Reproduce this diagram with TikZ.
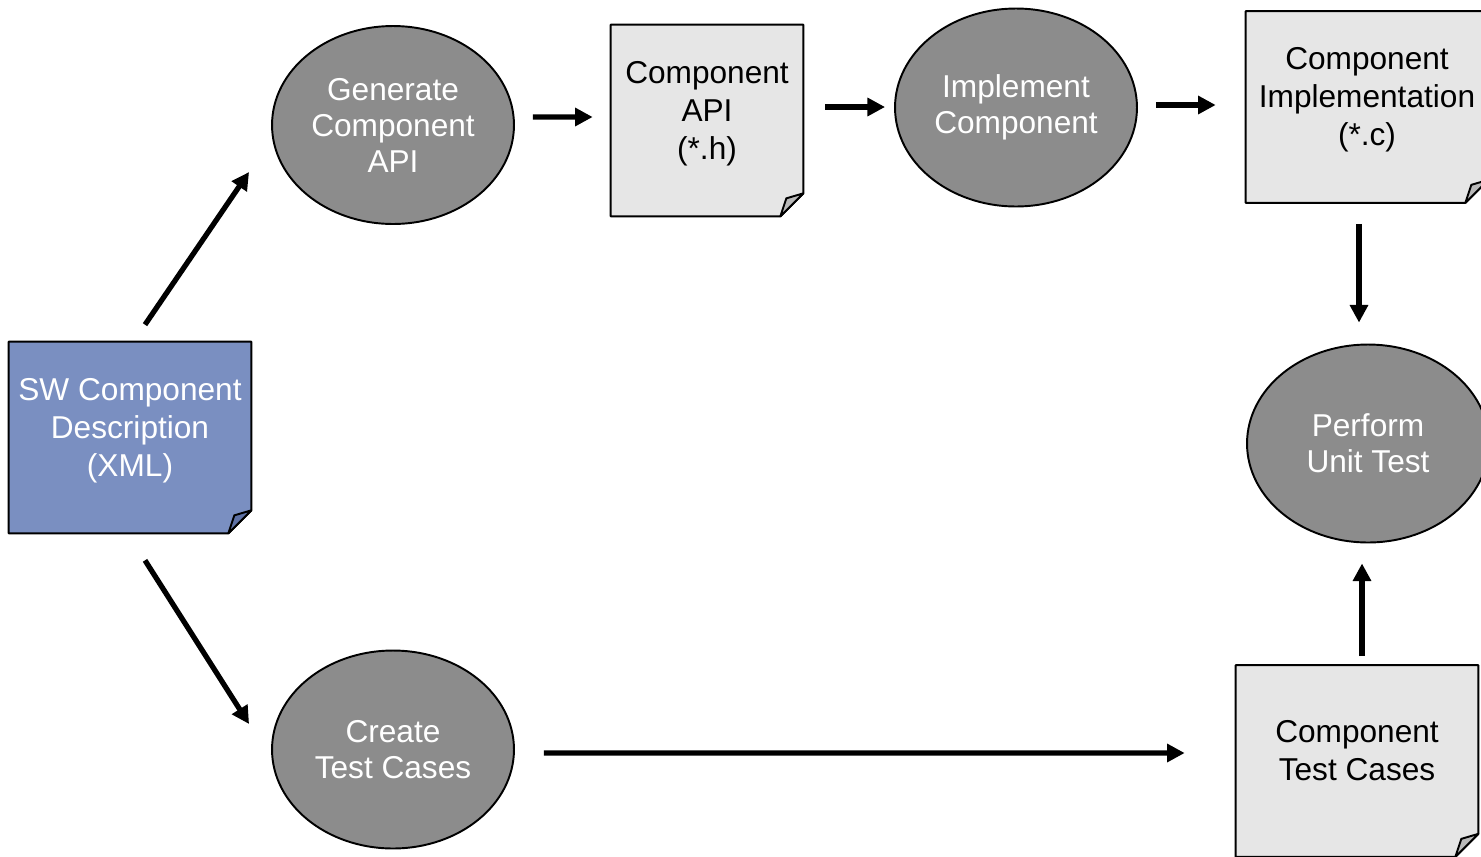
\documentclass[tikz,border=0pt]{standalone}
\usepackage{fontspec}
\setmainfont{Liberation Sans}
\usetikzlibrary{shapes.geometric,arrows.meta,backgrounds}

\definecolor{swblue}{RGB}{122,143,193}
\definecolor{swfold}{RGB}{95,114,165}
\definecolor{docgray}{RGB}{230,230,230}
\definecolor{foldgray}{RGB}{185,185,185}
\definecolor{stepgray}{RGB}{140,140,140}

% paper sheet with a folded corner, drawn behind the node
\newcommand{\docframe}[4][0.14cm]{%
\begin{scope}[on background layer]
\draw[docline, fill=#3] ([yshift=-#1]#2.north west) -- ([yshift=-#1]#2.north east)
  -- ([yshift=0.46cm-#1]#2.south east) -- ([xshift=-0.46cm,yshift=-#1]#2.south east)
  -- ([yshift=-#1]#2.south west) -- cycle;
\draw[docline, fill=#4] ([xshift=-0.46cm,yshift=-#1]#2.south east)
  -- ([xshift=-0.34cm,yshift=0.36cm-#1]#2.south east) -- ([yshift=0.46cm-#1]#2.south east) -- cycle;
\end{scope}}

\begin{document}
\begin{tikzpicture}[x=0.02cm, y=-0.02cm]
\tikzset{docline/.style={draw=black, line width=1.1pt, line join=round},
  docnode/.style={rectangle, inner sep=0pt, minimum width=4.84cm, minimum height=3.82cm,
    align=center, font=\fontsize{18}{21.6}\selectfont},
  stepnode/.style={ellipse, draw=black, line width=1.1pt, fill=stepgray, text=white,
    inner sep=0pt, minimum width=4.84cm, minimum height=3.96cm,
    align=center, font=\fontsize{18}{20.5}\selectfont},
  arr/.style={line width=3pt, -{Triangle[length=10pt,width=10pt]}}}
\useasboundingbox (0,0) rectangle (1481,856);

\node[docnode, text=white] (sw) at (130,430.5) {SW Component\\Description\\(XML)};
\node[stepnode] (gen) at (393,125) {Generate\\Component\\API};
\node[docnode, minimum width=3.84cm] (api) at (707,113.5) {Component\\API\\(*.h)};
\node[stepnode] (impl) at (1016,107.5) {Implement\\Component};
\node[docnode] (code) at (1367,100) {Component\\Implementation\\(*.c)};
\node[stepnode] (test) at (1368,443.5) {Perform\\Unit Test};
\node[stepnode] (create) at (393,749.5) {Create\\Test Cases};
\node[docnode] (cases) at (1357,751) {Component\\Test Cases};

\docframe{sw}{swblue}{swfold}
\docframe{api}{docgray}{foldgray}
\docframe{code}{docgray}{foldgray}
\docframe[0.2cm]{cases}{docgray}{foldgray}

\draw[arr] ([shift={(15,-10)}]sw.north) -- ([shift={(-22,47)}]gen.west);
\draw[arr] ([shift={(15,34)}]sw.south) -- ([shift={(-22,-25.5)}]create.west);
\draw[arr] ([shift={(18,-8)}]gen.east) -- ([shift={(-18,3.5)}]api.west);
\draw[arr] ([shift={(22,-6.5)}]api.east) -- ([shift={(-9,-0.5)}]impl.west);
\draw[arr] ([shift={(18,-2.5)}]impl.east) -- ([shift={(-30,5)}]code.west);
\draw[arr] ([shift={(-8,28)}]code.south) -- ([shift={(-9,-21)}]test.north);
\draw[arr] ([shift={(29,3.5)}]create.east) -- ([shift={(-51,2)}]cases.west);
\draw[arr] ([shift={(5,1)}]cases.north) -- ([shift={(-6,20)}]test.south);
\end{tikzpicture}
\end{document}
